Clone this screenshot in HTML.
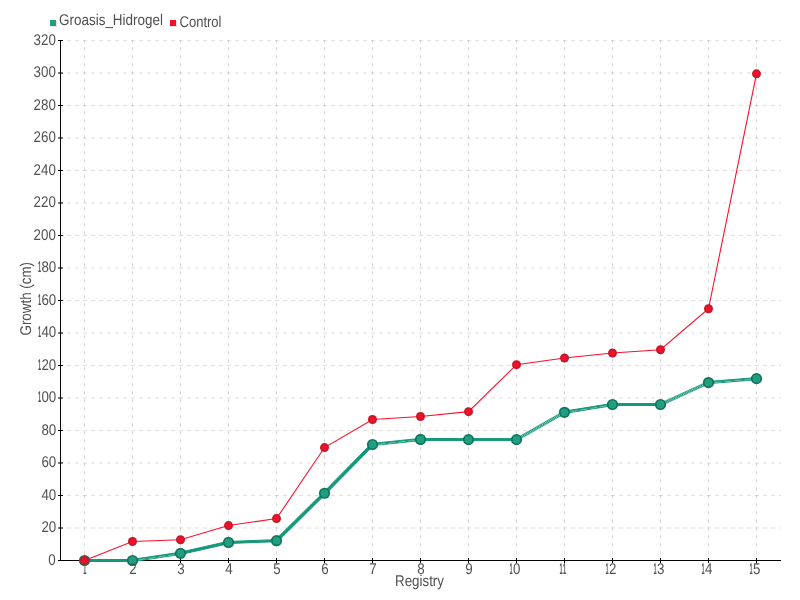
<!DOCTYPE html>
<html lang="en"><head><meta charset="utf-8"><title>Growth chart</title>
<style>
html,body{margin:0;padding:0;background:#fff;}
#c{position:relative;width:800px;height:600px;overflow:hidden;background:#fff;font-family:"Liberation Sans",sans-serif;font-size:15.5px;line-height:16px;text-rendering:geometricPrecision;color:#505050;}
svg{position:absolute;left:0;top:0;display:block;}
svg text{font-family:"Liberation Sans",sans-serif;font-size:15.5px;text-rendering:geometricPrecision;fill:#505050;}
.y,.x{position:absolute;white-space:nowrap;height:16px;}
.y{right:744px;text-align:right;transform:scaleX(0.86);transform-origin:100% 50%;}
.x{top:561.5px;transform:translateX(-50%) scaleX(0.86);transform-origin:50% 50%;}
i{font-style:normal;font-weight:bold;display:inline-block;width:4.0px;transform:scaleX(0.42);transform-origin:0 50%;}
</style></head><body><div id="c">
<svg width="800" height="600" viewBox="0 0 800 600">
<rect width="800" height="600" fill="#fff"/>
<g stroke="#000" stroke-opacity="0.13" stroke-width="1" stroke-dasharray="4 4">
<line x1="59" y1="528.00" x2="781" y2="528.00"/>
<line x1="59" y1="495.50" x2="781" y2="495.50"/>
<line x1="59" y1="463.00" x2="781" y2="463.00"/>
<line x1="59" y1="430.50" x2="781" y2="430.50"/>
<line x1="59" y1="398.00" x2="781" y2="398.00"/>
<line x1="59" y1="365.50" x2="781" y2="365.50"/>
<line x1="59" y1="333.00" x2="781" y2="333.00"/>
<line x1="59" y1="300.50" x2="781" y2="300.50"/>
<line x1="59" y1="268.00" x2="781" y2="268.00"/>
<line x1="59" y1="235.50" x2="781" y2="235.50"/>
<line x1="59" y1="203.00" x2="781" y2="203.00"/>
<line x1="59" y1="170.50" x2="781" y2="170.50"/>
<line x1="59" y1="138.00" x2="781" y2="138.00"/>
<line x1="59" y1="105.50" x2="781" y2="105.50"/>
<line x1="59" y1="73.00" x2="781" y2="73.00"/>
<line x1="59" y1="40.50" x2="781" y2="40.50"/>
<line x1="84.5" y1="40" x2="84.5" y2="560" stroke-dashoffset="1"/>
<line x1="132.5" y1="40" x2="132.5" y2="560" stroke-dashoffset="1"/>
<line x1="180.5" y1="40" x2="180.5" y2="560" stroke-dashoffset="1"/>
<line x1="228.5" y1="40" x2="228.5" y2="560" stroke-dashoffset="1"/>
<line x1="276.5" y1="40" x2="276.5" y2="560" stroke-dashoffset="1"/>
<line x1="324.5" y1="40" x2="324.5" y2="560" stroke-dashoffset="1"/>
<line x1="372.5" y1="40" x2="372.5" y2="560" stroke-dashoffset="1"/>
<line x1="420.5" y1="40" x2="420.5" y2="560" stroke-dashoffset="1"/>
<line x1="468.5" y1="40" x2="468.5" y2="560" stroke-dashoffset="1"/>
<line x1="516.5" y1="40" x2="516.5" y2="560" stroke-dashoffset="1"/>
<line x1="564.5" y1="40" x2="564.5" y2="560" stroke-dashoffset="1"/>
<line x1="612.5" y1="40" x2="612.5" y2="560" stroke-dashoffset="1"/>
<line x1="660.5" y1="40" x2="660.5" y2="560" stroke-dashoffset="1"/>
<line x1="708.5" y1="40" x2="708.5" y2="560" stroke-dashoffset="1"/>
<line x1="756.5" y1="40" x2="756.5" y2="560" stroke-dashoffset="1"/>
</g>
<g stroke="#000" stroke-width="1">
<line x1="60.5" y1="40" x2="60.5" y2="561"/>
<line x1="60" y1="560.5" x2="781" y2="560.5"/>
<line x1="58" y1="560.50" x2="63" y2="560.50"/>
<line x1="58" y1="528.00" x2="63" y2="528.00"/>
<line x1="58" y1="495.50" x2="63" y2="495.50"/>
<line x1="58" y1="463.00" x2="63" y2="463.00"/>
<line x1="58" y1="430.50" x2="63" y2="430.50"/>
<line x1="58" y1="398.00" x2="63" y2="398.00"/>
<line x1="58" y1="365.50" x2="63" y2="365.50"/>
<line x1="58" y1="333.00" x2="63" y2="333.00"/>
<line x1="58" y1="300.50" x2="63" y2="300.50"/>
<line x1="58" y1="268.00" x2="63" y2="268.00"/>
<line x1="58" y1="235.50" x2="63" y2="235.50"/>
<line x1="58" y1="203.00" x2="63" y2="203.00"/>
<line x1="58" y1="170.50" x2="63" y2="170.50"/>
<line x1="58" y1="138.00" x2="63" y2="138.00"/>
<line x1="58" y1="105.50" x2="63" y2="105.50"/>
<line x1="58" y1="73.00" x2="63" y2="73.00"/>
<line x1="58" y1="40.50" x2="63" y2="40.50"/>
<line x1="84.5" y1="558" x2="84.5" y2="563"/>
<line x1="132.5" y1="558" x2="132.5" y2="563"/>
<line x1="180.5" y1="558" x2="180.5" y2="563"/>
<line x1="228.5" y1="558" x2="228.5" y2="563"/>
<line x1="276.5" y1="558" x2="276.5" y2="563"/>
<line x1="324.5" y1="558" x2="324.5" y2="563"/>
<line x1="372.5" y1="558" x2="372.5" y2="563"/>
<line x1="420.5" y1="558" x2="420.5" y2="563"/>
<line x1="468.5" y1="558" x2="468.5" y2="563"/>
<line x1="516.5" y1="558" x2="516.5" y2="563"/>
<line x1="564.5" y1="558" x2="564.5" y2="563"/>
<line x1="612.5" y1="558" x2="612.5" y2="563"/>
<line x1="660.5" y1="558" x2="660.5" y2="563"/>
<line x1="708.5" y1="558" x2="708.5" y2="563"/>
<line x1="756.5" y1="558" x2="756.5" y2="563"/>
</g>
<text x="395" y="586" textLength="49" lengthAdjust="spacingAndGlyphs">Registry</text>
<text transform="translate(30.5 335.5) rotate(-90)" textLength="73.5" lengthAdjust="spacingAndGlyphs">Growth (cm)</text>
<rect x="51" y="21" width="6" height="6" fill="#e9e0e0"/>
<rect x="50" y="20" width="6" height="6" fill="#1fa085"/>
<text x="59" y="25" textLength="104" lengthAdjust="spacingAndGlyphs">Groasis_Hidrogel</text>
<rect x="171" y="21" width="6" height="6" fill="#e9e0e0"/>
<rect x="170" y="20" width="6" height="6" fill="#fb0d28"/>
<text x="179.5" y="27" textLength="42" lengthAdjust="spacingAndGlyphs">Control</text>
<defs><pattern id="h" width="1.7" height="4" patternUnits="userSpaceOnUse" patternTransform="rotate(30)"><rect width="1.7" height="4" fill="#17977a"/><rect width="0.6" height="4" fill="#b4e0d5"/></pattern></defs>
<g fill="#17977a" stroke="#17977a" stroke-width="1" stroke-linejoin="round">
<polygon points="83.50,559.50 131.50,559.50 133.50,561.50 85.50,561.50"/>
<polygon points="131.50,559.50 179.50,552.35 181.50,554.35 133.50,561.50"/>
<polygon points="179.50,552.35 227.50,541.46 229.50,543.46 181.50,554.35"/>
<polygon points="227.50,541.46 275.50,539.67 277.50,541.67 229.50,543.46"/>
<polygon points="275.50,539.67 323.50,492.23 325.50,494.23 277.50,541.67"/>
<polygon points="323.50,492.23 371.50,443.48 373.50,445.48 325.50,494.23"/>
<polygon points="371.50,443.48 419.50,438.44 421.50,440.44 373.50,445.48"/>
<polygon points="419.50,438.44 467.50,438.60 469.50,440.60 421.50,440.44"/>
<polygon points="467.50,438.60 515.50,438.60 517.50,440.60 469.50,440.60"/>
<polygon points="515.50,438.60 563.50,411.30 565.50,413.30 517.50,440.60" fill="url(#h)" stroke-width="0.6"/>
<polygon points="563.50,411.30 611.50,403.50 613.50,405.50 565.50,413.30"/>
<polygon points="611.50,403.50 659.50,403.50 661.50,405.50 613.50,405.50"/>
<polygon points="659.50,403.50 707.50,381.56 709.50,383.56 661.50,405.50" fill="url(#h)" stroke-width="0.6"/>
<polygon points="707.50,381.56 755.50,377.66 757.50,379.66 709.50,383.56"/>
</g>
<g fill="none" stroke="#fff" stroke-opacity="0.55" stroke-width="0.7" stroke-dasharray="7 3">
<line x1="138.50" y1="560.01" x2="174.50" y2="554.64"/>
<line x1="378.50" y1="444.25" x2="414.50" y2="440.47"/>
<line x1="570.50" y1="411.72" x2="606.50" y2="405.88"/>
<line x1="714.50" y1="382.47" x2="750.50" y2="379.55"/>
</g>
<polyline points="84.5,560.50 132.5,541.49 180.5,539.70 228.5,525.56 276.5,518.58 324.5,447.56 372.5,419.45 420.5,416.52 468.5,411.65 516.5,364.69 564.5,358.02 612.5,352.99 660.5,349.74 708.5,308.79 756.5,73.81" fill="none" stroke="#f8112d" stroke-width="1.1"/>
<circle cx="84.5" cy="560.50" r="5.6" fill="#12735b"/><circle cx="84.5" cy="560.50" r="3.9" fill="#1f9f82"/>
<circle cx="132.5" cy="560.50" r="5.6" fill="#12735b"/><circle cx="132.5" cy="560.50" r="3.9" fill="#1f9f82"/>
<circle cx="180.5" cy="553.35" r="5.6" fill="#12735b"/><circle cx="180.5" cy="553.35" r="3.9" fill="#1f9f82"/>
<circle cx="228.5" cy="542.46" r="5.6" fill="#12735b"/><circle cx="228.5" cy="542.46" r="3.9" fill="#1f9f82"/>
<circle cx="276.5" cy="540.67" r="5.6" fill="#12735b"/><circle cx="276.5" cy="540.67" r="3.9" fill="#1f9f82"/>
<circle cx="324.5" cy="493.23" r="5.6" fill="#12735b"/><circle cx="324.5" cy="493.23" r="3.9" fill="#1f9f82"/>
<circle cx="372.5" cy="444.48" r="5.6" fill="#12735b"/><circle cx="372.5" cy="444.48" r="3.9" fill="#1f9f82"/>
<circle cx="420.5" cy="439.44" r="5.6" fill="#12735b"/><circle cx="420.5" cy="439.44" r="3.9" fill="#1f9f82"/>
<circle cx="468.5" cy="439.60" r="5.6" fill="#12735b"/><circle cx="468.5" cy="439.60" r="3.9" fill="#1f9f82"/>
<circle cx="516.5" cy="439.60" r="5.6" fill="#12735b"/><circle cx="516.5" cy="439.60" r="3.9" fill="#1f9f82"/>
<circle cx="564.5" cy="412.30" r="5.6" fill="#12735b"/><circle cx="564.5" cy="412.30" r="3.9" fill="#1f9f82"/>
<circle cx="612.5" cy="404.50" r="5.6" fill="#12735b"/><circle cx="612.5" cy="404.50" r="3.9" fill="#1f9f82"/>
<circle cx="660.5" cy="404.50" r="5.6" fill="#12735b"/><circle cx="660.5" cy="404.50" r="3.9" fill="#1f9f82"/>
<circle cx="708.5" cy="382.56" r="5.6" fill="#12735b"/><circle cx="708.5" cy="382.56" r="3.9" fill="#1f9f82"/>
<circle cx="756.5" cy="378.66" r="5.6" fill="#12735b"/><circle cx="756.5" cy="378.66" r="3.9" fill="#1f9f82"/>
<circle cx="84.5" cy="560.50" r="4.5" fill="#c21a29"/><circle cx="84.5" cy="560.50" r="2.6" fill="#fb0d28"/>
<circle cx="132.5" cy="541.49" r="4.5" fill="#c21a29"/><circle cx="132.5" cy="541.49" r="2.6" fill="#fb0d28"/>
<circle cx="180.5" cy="539.70" r="4.5" fill="#c21a29"/><circle cx="180.5" cy="539.70" r="2.6" fill="#fb0d28"/>
<circle cx="228.5" cy="525.56" r="4.5" fill="#c21a29"/><circle cx="228.5" cy="525.56" r="2.6" fill="#fb0d28"/>
<circle cx="276.5" cy="518.58" r="4.5" fill="#c21a29"/><circle cx="276.5" cy="518.58" r="2.6" fill="#fb0d28"/>
<circle cx="324.5" cy="447.56" r="4.5" fill="#c21a29"/><circle cx="324.5" cy="447.56" r="2.6" fill="#fb0d28"/>
<circle cx="372.5" cy="419.45" r="4.5" fill="#c21a29"/><circle cx="372.5" cy="419.45" r="2.6" fill="#fb0d28"/>
<circle cx="420.5" cy="416.52" r="4.5" fill="#c21a29"/><circle cx="420.5" cy="416.52" r="2.6" fill="#fb0d28"/>
<circle cx="468.5" cy="411.65" r="4.5" fill="#c21a29"/><circle cx="468.5" cy="411.65" r="2.6" fill="#fb0d28"/>
<circle cx="516.5" cy="364.69" r="4.5" fill="#c21a29"/><circle cx="516.5" cy="364.69" r="2.6" fill="#fb0d28"/>
<circle cx="564.5" cy="358.02" r="4.5" fill="#c21a29"/><circle cx="564.5" cy="358.02" r="2.6" fill="#fb0d28"/>
<circle cx="612.5" cy="352.99" r="4.5" fill="#c21a29"/><circle cx="612.5" cy="352.99" r="2.6" fill="#fb0d28"/>
<circle cx="660.5" cy="349.74" r="4.5" fill="#c21a29"/><circle cx="660.5" cy="349.74" r="2.6" fill="#fb0d28"/>
<circle cx="708.5" cy="308.79" r="4.5" fill="#c21a29"/><circle cx="708.5" cy="308.79" r="2.6" fill="#fb0d28"/>
<circle cx="756.5" cy="73.81" r="4.5" fill="#c21a29"/><circle cx="756.5" cy="73.81" r="2.6" fill="#fb0d28"/>
</svg>
<div class="y" style="top:553px">0</div>
<div class="y" style="top:520px">20</div>
<div class="y" style="top:488px">40</div>
<div class="y" style="top:455px">60</div>
<div class="y" style="top:423px">80</div>
<div class="y" style="top:390px"><i>1</i>00</div>
<div class="y" style="top:358px"><i>1</i>20</div>
<div class="y" style="top:325px"><i>1</i>40</div>
<div class="y" style="top:293px"><i>1</i>60</div>
<div class="y" style="top:260px"><i>1</i>80</div>
<div class="y" style="top:228px">200</div>
<div class="y" style="top:195px">220</div>
<div class="y" style="top:163px">240</div>
<div class="y" style="top:130px">260</div>
<div class="y" style="top:98px">280</div>
<div class="y" style="top:65px">300</div>
<div class="y" style="top:33px">320</div>
<div class="x" style="left:84.5px"><i>1</i></div>
<div class="x" style="left:132.5px">2</div>
<div class="x" style="left:180.5px">3</div>
<div class="x" style="left:228.5px">4</div>
<div class="x" style="left:276.5px">5</div>
<div class="x" style="left:324.5px">6</div>
<div class="x" style="left:372.5px">7</div>
<div class="x" style="left:420.5px">8</div>
<div class="x" style="left:468.5px">9</div>
<div class="x" style="left:515.4px"><i>1</i>0</div>
<div class="x" style="left:563.4px"><i>1</i><i>1</i></div>
<div class="x" style="left:611.4px"><i>1</i>2</div>
<div class="x" style="left:659.4px"><i>1</i>3</div>
<div class="x" style="left:707.4px"><i>1</i>4</div>
<div class="x" style="left:755.4px"><i>1</i>5</div>
</div></body></html>
